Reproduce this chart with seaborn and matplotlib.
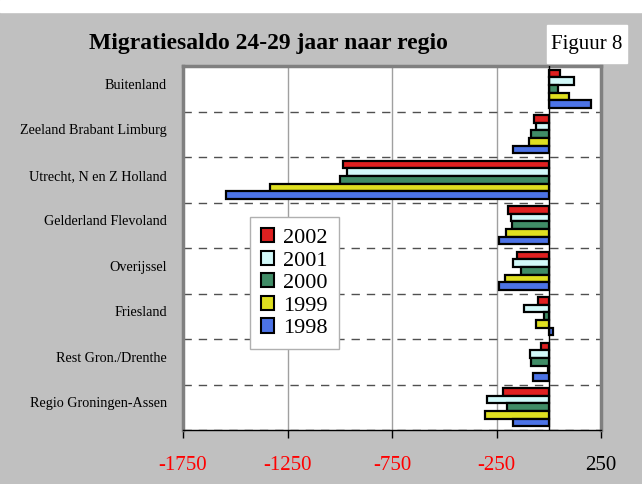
import pandas as pd
import matplotlib.pyplot as plt
import matplotlib.patches as mpatches
import matplotlib.transforms as mtransforms
import seaborn as sns

regios = ['Buitenland', 'Zeeland Brabant Limburg', 'Utrecht, N en Z Holland',
          'Gelderland Flevoland', 'Overijssel', 'Friesland',
          'Rest Gron./Drenthe', 'Regio Groningen-Assen']
jaren = ['2002', '2001', '2000', '1999', '1998']
saldo_2002 = [55, -70, -985, -195, -150, -50, -35, -220]
saldo_2001 = [120, -60, -965, -180, -170, -120, -90, -295]
saldo_2000 = [45, -85, -1000, -175, -135, -25, -85, -200]
saldo_1999 = [95, -95, -1335, -205, -210, -60, -5, -305]
saldo_1998 = [200, -170, -1545, -240, -240, 20, -75, -170]
kleuren = ['#FF0000', '#CCFFFF', '#339966', '#FFFF00', '#3366FF']
xticks = [-1750, -1250, -750, -250, 250]

rows = []
for jaar, vals in zip(jaren, [saldo_2002, saldo_2001, saldo_2000, saldo_1999, saldo_1998]):
    for r, v in zip(regios, vals):
        rows.append({'regio': r, 'jaar': jaar, 'saldo': v})
df = pd.DataFrame(rows)

plt.rcParams['font.family'] = ['Liberation Serif', 'DejaVu Serif']

fig = plt.figure(figsize=(6.42, 4.84), dpi=100, facecolor='#C0C0C0')
fig.patches.append(mpatches.Rectangle((0, 1 - 12 / 484), 1, 12 / 484, transform=fig.transFigure,
                                      color='white', zorder=0))
fig.patches.append(mpatches.Rectangle((547 / 642, 1 - 63 / 484), 80 / 642, 38 / 484,
                                      transform=fig.transFigure, color='white', zorder=0))
ax = fig.add_axes([183 / 642, 1 - 430 / 484, 418 / 642, 364 / 484])

sns.barplot(data=df, x='saldo', y='regio', hue='jaar', order=regios, hue_order=jaren,
            orient='h', palette=kleuren, edgecolor='black', linewidth=1.6,
            width=0.83, gap=0, ax=ax, zorder=3)

ax.set_xlim(-1750, 250)
ax.set_ylim(7.5, -0.5)
ax.set_xticks(xticks)
ax.set_xticklabels([str(t) for t in xticks], fontsize=15)
for lbl, t in zip(ax.get_xticklabels(), xticks):
    lbl.set_color('red' if t < 0 else 'black')
ax.tick_params(axis='x', length=6, width=1, pad=12.5, direction='out')
ax.set_yticks(range(len(regios)))
ax.set_yticklabels(regios, fontsize=10.2)
ax.tick_params(axis='y', length=0, pad=11.5)
# labels sit a little above the category centre, as in the original
shift = mtransforms.ScaledTranslation(0, 3.5 / 72, fig.dpi_scale_trans)
for lbl in ax.get_yticklabels():
    lbl.set_transform(lbl.get_transform() + shift)
ax.set_yticks([i + 0.5 for i in range(-1, len(regios))], minor=True)
ax.tick_params(axis='y', which='minor', length=0)
ax.xaxis.grid(True, color='#A0A0A0', linewidth=1)
ax.yaxis.grid(True, which='minor', color='#505050', linestyle=(0, (6, 5)), linewidth=1)
ax.yaxis.grid(False, which='major')
ax.set_axisbelow(True)
ax.axvline(0, color='black', linewidth=1, zorder=4)
ax.set_xlabel('')
ax.set_ylabel('')
for side in ['left', 'right', 'top']:
    ax.spines[side].set_color('#808080')
    ax.spines[side].set_linewidth(2.5)
ax.spines['bottom'].set_color('black')
ax.spines['bottom'].set_linewidth(1)

leg = ax.legend(loc='upper left', bbox_to_anchor=(0.16, 0.585), fontsize=16,
                frameon=True, fancybox=False, edgecolor='#B0B0B0', framealpha=1,
                handlelength=0.6, handleheight=0.6, handletextpad=0.4,
                labelspacing=0.12, borderpad=0.5, borderaxespad=0, title=None)
for h in leg.legend_handles:
    h.set_edgecolor('black')
    h.set_linewidth(1.5)

fig.text(268 / 642, 1 - 44 / 484, 'Migratiesaldo 24-29 jaar naar regio', fontsize=17,
         fontweight='bold', ha='center', va='center')
fig.text(587 / 642, 1 - 44 / 484, 'Figuur 8', fontsize=15, ha='center', va='center')

plt.savefig('out.png', dpi=100, facecolor=fig.get_facecolor())
